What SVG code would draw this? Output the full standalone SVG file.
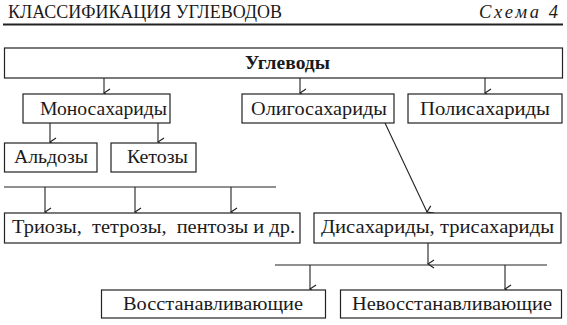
<svg xmlns="http://www.w3.org/2000/svg" width="567" height="325" viewBox="0 0 567 325">
<defs>
<marker id="ah" markerUnits="userSpaceOnUse" markerWidth="10" markerHeight="8" refX="5" refY="7" orient="auto-start-reverse" viewBox="0 0 10 8">
<path d="M1,1 L5,7 L9,1" fill="none" stroke="#222" stroke-width="1.2"/>
</marker>
<style>
.box{fill:#fff;stroke:#222;stroke-width:1.2}
.t{font-family:"Liberation Serif","DejaVu Serif",serif;font-size:18.5px;fill:#1a1a1a}
.c{fill:none;stroke:#222;stroke-width:1.1}
.a{marker-end:url(#ah)}
</style>
</defs>
<rect width="567" height="325" fill="#fff"/>
<g id="header">
<text class="t" x="8" y="18" font-size="15.5" textLength="274" lengthAdjust="spacingAndGlyphs">КЛАССИФИКАЦИЯ УГЛЕВОДОВ</text>
<text class="t" x="479" y="18" font-size="16.5" font-style="italic" textLength="79" lengthAdjust="spacing">Схема 4</text>
<line x1="3" y1="24.5" x2="563" y2="24.5" stroke="#222" stroke-width="1.8"/>
</g>
<g id="connectors">
<line class="c a" x1="104" y1="78" x2="104" y2="93"/>
<line class="c a" x1="300" y1="78" x2="300" y2="93"/>
<line class="c a" x1="485" y1="78" x2="485" y2="93"/>
<line class="c a" x1="50" y1="123" x2="50" y2="142"/>
<line class="c a" x1="158" y1="123" x2="158" y2="142"/>
<line class="c" x1="4" y1="187" x2="276" y2="187"/>
<line class="c a" x1="45" y1="187" x2="45" y2="212"/>
<line class="c a" x1="135" y1="187" x2="135" y2="212"/>
<line class="c a" x1="231" y1="187" x2="231" y2="212"/>
<line class="c a" x1="385" y1="123" x2="427" y2="212"/>
<line class="c a" x1="428" y1="243" x2="428" y2="264"/>
<line class="c" x1="275" y1="265" x2="547" y2="265"/>
<line class="c a" x1="310" y1="265" x2="310" y2="289"/>
<line class="c a" x1="505" y1="265" x2="505" y2="289"/>
</g>
<g id="uglevody">
<rect class="box" x="4.5" y="48" width="558" height="30"/>
<text class="t" x="287.5" y="68.5" text-anchor="middle" font-weight="bold" textLength="85" lengthAdjust="spacingAndGlyphs">Углеводы</text>
</g>
<g id="mono">
<rect class="box" x="23" y="94" width="147" height="29"/>
<text class="t" x="40" y="115" textLength="127" lengthAdjust="spacingAndGlyphs">Моносахариды</text>
</g>
<g id="oligo">
<rect class="box" x="242" y="94" width="152" height="29"/>
<text class="t" x="251" y="115" textLength="136" lengthAdjust="spacingAndGlyphs">Олигосахариды</text>
</g>
<g id="poli">
<rect class="box" x="408" y="94" width="154" height="29"/>
<text class="t" x="420" y="115" textLength="130" lengthAdjust="spacingAndGlyphs">Полисахариды</text>
</g>
<g id="aldozy">
<rect class="box" x="4.5" y="143" width="92.5" height="29"/>
<text class="t" x="14" y="163" textLength="74" lengthAdjust="spacingAndGlyphs">Альдозы</text>
</g>
<g id="ketozy">
<rect class="box" x="111" y="143" width="85" height="29"/>
<text class="t" x="127" y="163" textLength="61" lengthAdjust="spacingAndGlyphs">Кетозы</text>
</g>
<g id="triozy">
<rect class="box" x="4.5" y="213" width="295.5" height="30"/>
<text class="t" x="12" y="233" textLength="283" lengthAdjust="spacingAndGlyphs" xml:space="preserve">Триозы,  тетрозы,  пентозы и др.</text>
</g>
<g id="disah">
<rect class="box" x="314" y="213" width="247" height="30"/>
<text class="t" x="321" y="233" textLength="233" lengthAdjust="spacingAndGlyphs">Дисахариды, трисахариды</text>
</g>
<g id="vosst">
<rect class="box" x="101.5" y="290" width="224" height="28"/>
<text class="t" x="123" y="310" textLength="180" lengthAdjust="spacingAndGlyphs">Восстанавливающие</text>
</g>
<g id="nevosst">
<rect class="box" x="340.5" y="290" width="221" height="28"/>
<text class="t" x="352" y="310" textLength="200" lengthAdjust="spacingAndGlyphs">Невосстанавливающие</text>
</g>
</svg>
